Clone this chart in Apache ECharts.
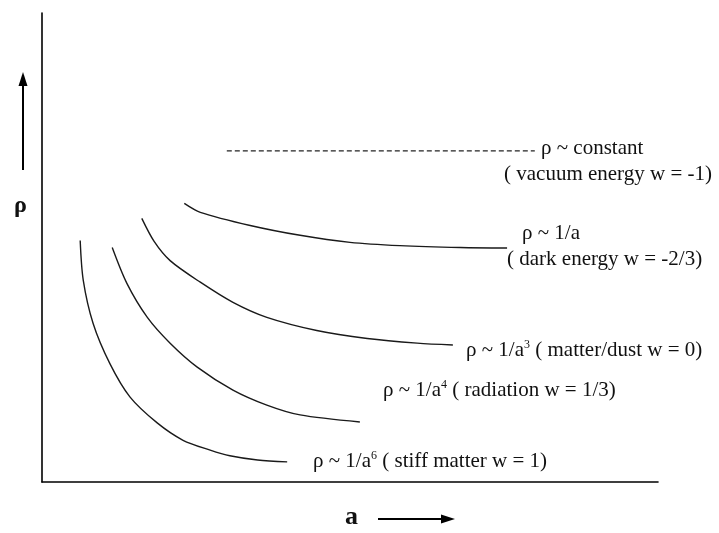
<!DOCTYPE html>
<html>
<head>
<meta charset="utf-8">
<script src="https://cdn.jsdelivr.net/npm/echarts@6/dist/echarts.min.js"></script>
<style>html,body{margin:0;padding:0;background:#fff}#c{width:719px;height:533px}</style>
</head>
<body>
<div id="c"></div>
<script>
// scale factor a (x) and energy density rho (y), arbitrary units
const stiffA   = [0.62, 0.67, 0.83, 1.10, 1.43, 1.87, 2.29, 2.73, 3.05, 3.50, 3.98];
const stiffRho = [5.15, 4.30, 3.38, 2.53, 1.81, 1.26, 0.89, 0.68, 0.56, 0.47, 0.43];
const radA     = [1.14, 1.38, 1.71, 2.08, 2.52, 3.10, 3.65, 4.19, 5.16];
const radRho   = [5.00, 4.23, 3.51, 2.96, 2.45, 1.96, 1.64, 1.43, 1.28];
const matA     = [1.62, 1.82, 2.08, 2.57, 3.10, 3.65, 4.46, 5.28, 6.09, 6.67];
const matRho   = [5.62, 5.13, 4.72, 4.26, 3.83, 3.51, 3.23, 3.06, 2.96, 2.92];
const darkA    = [2.31, 2.57, 3.38, 4.19, 5.00, 5.81, 6.79, 7.55];
const darkRho  = [5.94, 5.75, 5.47, 5.26, 5.11, 5.04, 5.00, 4.99];
const vacA     = [3.00, 8.00];
const vacRho   = [7.06, 7.06];

const labels = {
  vac1: 'ρ ~ constant',
  vac2: '( vacuum energy w = -1)',
  dark1: 'ρ ~ 1/a',
  dark2: '( dark energy w = -2/3)',
  mat: ['ρ ~ 1/a', '3', ' ( matter/dust w = 0)'],
  rad: ['ρ ~ 1/a', '4', ' ( radiation w = 1/3)'],
  stiff: ['ρ ~ 1/a', '6', ' ( stiff matter w = 1)'],
  xName: 'a',
  yName: 'ρ'
};

const zip = (xs, ys) => xs.map((x, i) => [x, ys[i]]);
const FONT = '"Liberation Serif", "Times New Roman", serif';
const FS = 21;
const lineStyle = {color: '#1a1a1a', width: 1.4};

function supText(parts, x, y) {
  return {
    type: 'text', left: x, top: y,
    style: {
      text: '{n|' + parts[0] + '}{s|' + parts[1] + '}{n|' + parts[2] + '}',
      rich: {
        n: {fontFamily: FONT, fontSize: FS, fill: '#111', verticalAlign: 'bottom', lineHeight: 22},
        s: {fontFamily: FONT, fontSize: 12, fill: '#111', verticalAlign: 'top', lineHeight: 22, padding: [0, 0, 10, 0]}
      }
    }
  };
}
function plainText(t, x, y, size, bold) {
  return {type: 'text', left: x, top: y,
    style: {text: t, fontFamily: FONT, fontSize: size || FS, fontWeight: bold ? 'bold' : 'normal', fill: '#111'}};
}
function curve(xs, ys) {
  return {type: 'line', data: zip(xs, ys), smooth: 0.3, showSymbol: false, lineStyle};
}

const chart = echarts.init(document.getElementById('c'), null, {renderer: 'canvas'});
chart.setOption({
  backgroundColor: '#fff',
  animation: false,
  grid: {left: 42, right: 61, top: 13, bottom: 51},
  xAxis: {type: 'value', min: 0, max: 10,
    axisLine: {show: true, onZero: false, lineStyle: {color: '#000', width: 1.6}},
    axisTick: {show: false}, axisLabel: {show: false}, splitLine: {show: false}},
  yAxis: {type: 'value', min: 0, max: 10,
    axisLine: {show: true, onZero: false, lineStyle: {color: '#000', width: 1.6}},
    axisTick: {show: false}, axisLabel: {show: false}, splitLine: {show: false}},
  series: [
    curve(stiffA, stiffRho),
    curve(radA, radRho),
    curve(matA, matRho),
    curve(darkA, darkRho),
    {type: 'line', data: zip(vacA, vacRho), showSymbol: false,
      lineStyle: {color: '#222', width: 1.1, type: [5, 3]}}
  ],
  graphic: [
    plainText(labels.vac1, 541, 138),
    plainText(labels.vac2, 504, 164),
    plainText(labels.dark1, 522, 223),
    plainText(labels.dark2, 507, 249),
    supText(labels.mat, 466, 339),
    supText(labels.rad, 383, 379),
    supText(labels.stiff, 313, 450),
    plainText(labels.yName, 14, 194, 24, true),
    plainText(labels.xName, 345, 504, 26, true),
    {type: 'line', shape: {x1: 23, y1: 170, x2: 23, y2: 84}, style: {stroke: '#000', lineWidth: 2}},
    {type: 'polygon', shape: {points: [[23, 72], [18.5, 86], [27.5, 86]]}, style: {fill: '#000'}},
    {type: 'line', shape: {x1: 378, y1: 519, x2: 442, y2: 519}, style: {stroke: '#000', lineWidth: 2}},
    {type: 'polygon', shape: {points: [[455, 519], [441, 514.5], [441, 523.5]]}, style: {fill: '#000'}}
  ]
});
</script>
</body>
</html>
